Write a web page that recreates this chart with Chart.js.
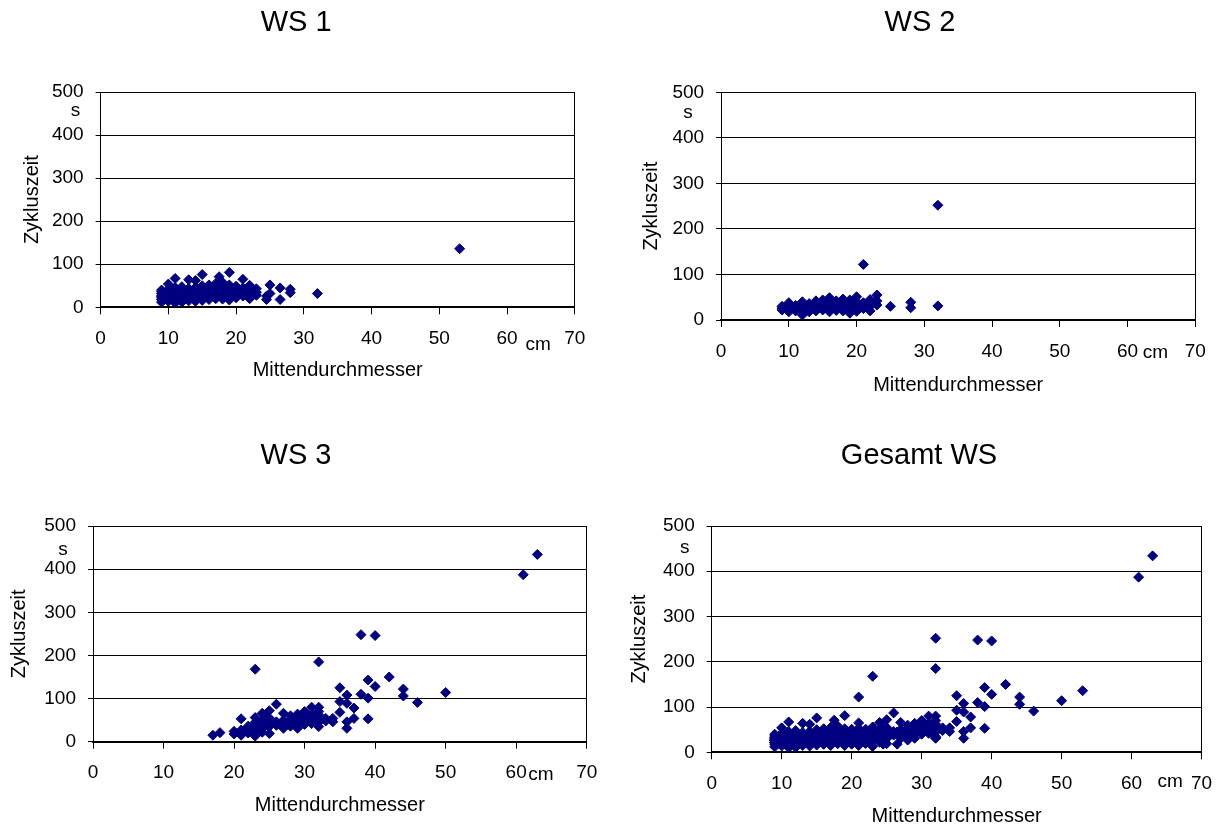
<!DOCTYPE html>
<html>
<head>
<meta charset="utf-8">
<script src="https://cdn.jsdelivr.net/npm/chart.js@4.4.1/dist/chart.umd.min.js"></script>
<style>
  html, body { margin: 0; padding: 0; background: #fff; }
  body { width: 1221px; height: 827px; position: relative; overflow: hidden; }
  .panel { position: absolute; }
</style>
</head>
<body>
<div class="panel" id="p1"><canvas id="c1"></canvas></div>
<div class="panel" id="p2"><canvas id="c2"></canvas></div>
<div class="panel" id="p3"><canvas id="c3"></canvas></div>
<div class="panel" id="p4"><canvas id="c4"></canvas></div>
<script>
// Mittendurchmesser (cm) / Zykluszeit (s)
const ws1Durchmesser = [
  9, 9, 9, 9, 9, 9, 9, 9,
  10, 10, 10, 10, 10, 10, 10, 10,
  11, 11, 11, 11, 11, 11, 11, 11,
  12, 12, 12, 12, 12, 12, 12,
  13, 13, 13, 13, 13, 13, 13,
  14, 14, 14, 14, 14, 14, 14,
  15, 15, 15, 15, 15, 15, 15,
  16, 16, 16, 16, 16, 16,
  17, 17, 17, 17, 17, 17, 17.5,
  18, 18, 18, 18, 18, 18,
  19, 19, 19, 19, 19, 19, 19,
  20, 20, 20, 20, 20,
  21, 21, 21, 21, 21,
  22, 22, 22, 22, 22,
  23, 23, 23, 24.5, 24.5,
  25, 25, 26.5, 26.5, 28, 28, 32, 53
];
const ws1Zykluszeit = [
  12, 18, 22, 25, 28, 32, 36, 40,
  14, 20, 24, 27, 30, 35, 42, 54,
  10, 16, 22, 26, 30, 38, 46, 67,
  12, 18, 23, 28, 33, 40, 48,
  15, 20, 26, 30, 36, 44, 64,
  14, 22, 27, 32, 38, 46, 62,
  16, 21, 28, 34, 40, 50, 76,
  18, 24, 30, 36, 43, 52,
  20, 26, 32, 38, 45, 55, 71,
  19, 25, 33, 40, 48, 58,
  17, 24, 30, 37, 44, 52, 81,
  22, 28, 35, 41, 49,
  26, 32, 38, 45, 65,
  20, 30, 36, 42, 51,
  28, 35, 43, 18, 26,
  32, 52, 18, 45, 34, 42, 32, 136
];

const ws2Durchmesser = [
  9, 9, 9, 10, 10, 10, 10,
  11, 11, 11, 12, 12, 12, 12, 12,
  13, 13, 13, 13, 14, 14, 14, 14,
  15, 15, 15, 15, 16, 16, 16, 16, 16,
  17, 17, 17, 17, 18, 18, 18, 18, 18,
  19, 19, 19, 19, 19, 20, 20, 20, 20, 20,
  21, 21, 21, 21, 22, 22, 22, 22,
  23, 23, 23, 25, 28, 28, 32, 32
];
const ws2Zykluszeit = [
  22, 26, 30, 18, 24, 30, 38,
  20, 26, 32, 11, 20, 28, 35, 40,
  18, 24, 30, 36, 20, 27, 33, 42,
  22, 28, 35, 44, 18, 25, 31, 38, 49,
  21, 28, 34, 42, 20, 27, 33, 40, 46,
  15, 24, 30, 38, 44, 19, 26, 33, 40, 51,
  25, 32, 38, 122, 20, 30, 36, 45,
  33, 42, 55, 30, 27, 39, 31, 252
];

const ws3Durchmesser = [
  17, 18, 20, 20, 21, 21, 21, 22, 22, 22,
  23, 23, 23, 23, 23, 23, 24, 24, 24, 24, 24, 24.5,
  25, 25, 25, 25, 25, 26, 26, 26, 27, 27, 27, 27,
  28, 28, 28, 28, 29, 29, 29, 29, 29,
  30, 30, 30, 30, 30, 31, 31, 31, 31, 31,
  32, 32, 32, 32, 32, 32, 32, 33, 33, 34, 34,
  35, 35, 35, 36, 36, 36, 36, 37, 37, 38, 38,
  39, 39, 39, 40, 40, 42, 44, 44, 46, 50, 61, 63
];
const ws3Zykluszeit = [
  15, 21, 18, 24, 15, 27, 53, 20, 30, 36,
  13, 25, 33, 45, 56, 168, 22, 30, 40, 50, 66, 62,
  19, 35, 44, 55, 72, 38, 46, 87, 31, 42, 50, 66,
  36, 45, 52, 60, 31, 40, 48, 56, 64,
  40, 47, 53, 60, 70, 42, 50, 57, 64, 80,
  35, 45, 55, 62, 70, 80, 185, 48, 54, 46, 54,
  68, 93, 125, 31, 46, 89, 108, 54, 78, 110, 248,
  53, 101, 143, 128, 246, 150, 106, 122, 91, 114, 387, 434
];

// "Gesamt WS" holds all three stands together
const gesamtDurchmesser = ws1Durchmesser.concat(ws2Durchmesser, ws3Durchmesser);
const gesamtZykluszeit = ws1Zykluszeit.concat(ws2Zykluszeit, ws3Zykluszeit);

const xRange = [0, 70];
const xStep = 10;
const yRange = [0, 500];
const yStep = 100;

const FONT = 'Arial, "Liberation Sans", sans-serif';
const MARKER = '#000080';
const TITLE_SIZE = 29;
const TICK_SIZE = 19;
const AXIS_TITLE_SIZE = 20;
const RIGHT_PAD = 26;

// where each panel sits on the page (pixels)
const panels = [
  { canvas: 'c1', title: 'WS 1', xs: ws1Durchmesser, ys: ws1Zykluszeit,
    left: 0, top: 0, area: [100.6, 574.8, 92, 307.3], titleAt: [296.2, 23],
    yTitleX: 32.5, xTitleY: 370, sUnit: [456, 25], cmUnit: [64.6, 37] },
  { canvas: 'c2', title: 'WS 2', xs: ws2Durchmesser, ys: ws2Zykluszeit,
    left: 610, top: 0, area: [721.1, 1195.3, 92.3, 320], titleAt: [920, 23],
    yTitleX: 651, xTitleY: 385, sUnit: [454, 33], cmUnit: [64.1, 33] },
  { canvas: 'c3', title: 'WS 3', xs: ws3Durchmesser, ys: ws3Zykluszeit,
    left: 0, top: 410, area: [93, 586.7, 526, 741.7], titleAt: [296, 456],
    yTitleX: 19.5, xTitleY: 805, sUnit: [446, 30], cmUnit: [63.5, 33] },
  { canvas: 'c4', title: 'Gesamt WS', xs: gesamtDurchmesser, ys: gesamtZykluszeit,
    left: 610, top: 410, area: [711.7, 1201.6, 526, 752.3], titleAt: [919, 456],
    yTitleX: 639, xTitleY: 815.5, sUnit: [451, 27], cmUnit: [65.5, 29.5] }
];

const unitLabels = {
  id: 'unitLabels',
  afterDraw(chart, args, opts) {
    const { ctx, chartArea, scales } = chart;
    ctx.save();
    ctx.font = TICK_SIZE + 'px ' + FONT;
    ctx.fillStyle = '#000';
    ctx.textAlign = 'center';
    ctx.textBaseline = 'middle';
    ctx.fillText('s', chartArea.left - opts.s[1], scales.y.getPixelForValue(opts.s[0]));
    ctx.fillText('cm', scales.x.getPixelForValue(opts.cm[0]), chartArea.bottom + opts.cm[1]);
    ctx.restore();
  }
};

panels.forEach(p => {
  const [aLeft, aRight, aTop, aBottom] = p.area;
  const width = Math.round(aRight + RIGHT_PAD - p.left);
  const padRight = p.left + width - aRight;
  const padLeft = 2 * p.titleAt[0] - aRight - p.left;
  const yAxisWidth = aLeft - p.left - padLeft;
  const titleLine = TITLE_SIZE * 1.2;
  const titlePadTop = p.titleAt[1] - p.top - titleLine / 2;
  const titlePadBottom = aTop - p.top - titlePadTop - titleLine;
  const axisLine = AXIS_TITLE_SIZE * 1.2;
  const yTitlePad = p.yTitleX - p.left - padLeft - axisLine / 2;
  const height = Math.round(p.xTitleY + axisLine / 2 + 6 - p.top);
  const xAxisHeight = p.top + height - aBottom;

  const box = document.getElementById(p.canvas).parentNode;
  box.style.left = p.left + 'px';
  box.style.top = p.top + 'px';
  box.style.width = width + 'px';
  box.style.height = height + 'px';

  new Chart(document.getElementById(p.canvas), {
    type: 'scatter',
    data: {
      datasets: [{
        data: p.xs.map((x, i) => ({ x: x, y: p.ys[i] })),
        pointStyle: 'rectRot',
        pointRadius: 5,
        pointBackgroundColor: MARKER,
        pointBorderColor: MARKER,
        pointBorderWidth: 1
      }]
    },
    options: {
      responsive: true,
      maintainAspectRatio: false,
      animation: false,
      events: [],
      layout: { padding: { left: padLeft, right: padRight, top: 0, bottom: 0 } },
      plugins: {
        legend: { display: false },
        tooltip: { enabled: false },
        title: {
          display: true,
          text: p.title,
          color: '#000',
          font: { family: FONT, size: TITLE_SIZE, weight: 'normal' },
          padding: { top: titlePadTop, bottom: titlePadBottom }
        },
        unitLabels: { s: p.sUnit, cm: p.cmUnit }
      },
      scales: {
        x: {
          type: 'linear',
          min: xRange[0],
          max: xRange[1],
          afterFit: s => { s.height = xAxisHeight; },
          ticks: { stepSize: xStep, color: '#000', padding: 13, font: { family: FONT, size: TICK_SIZE } },
          grid: {
            color: c => (c.tick && c.tick.value === xRange[1]) ? '#000' : 'rgba(0,0,0,0)',
            tickColor: '#000',
            tickLength: 7,
            lineWidth: 1
          },
          border: { display: true, color: '#000', width: 2 },
          title: {
            display: true,
            text: 'Mittendurchmesser',
            color: '#000',
            font: { family: FONT, size: AXIS_TITLE_SIZE },
            padding: { top: 0, bottom: 6 }
          }
        },
        y: {
          type: 'linear',
          min: yRange[0],
          max: yRange[1],
          afterFit: s => { s.width = yAxisWidth; },
          ticks: { stepSize: yStep, color: '#000', padding: 12, font: { family: FONT, size: TICK_SIZE } },
          grid: { color: '#000', tickColor: '#000', tickLength: 5, lineWidth: 1 },
          border: { display: true, color: '#000', width: 1 },
          title: {
            display: true,
            text: 'Zykluszeit',
            color: '#000',
            font: { family: FONT, size: AXIS_TITLE_SIZE },
            padding: { top: yTitlePad, bottom: 0 }
          }
        }
      }
    },
    plugins: [unitLabels]
  });
});
</script>
</body>
</html>
